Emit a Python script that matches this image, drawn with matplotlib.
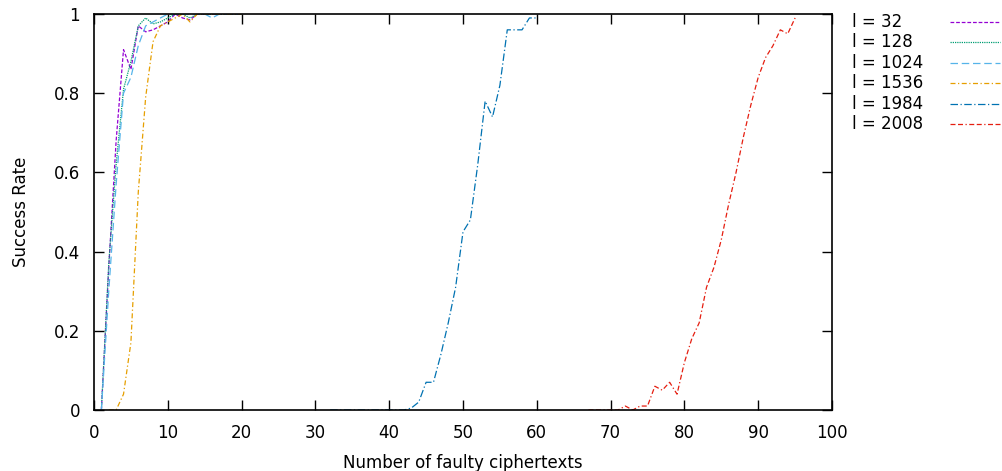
import matplotlib
matplotlib.use('Agg')
import matplotlib.pyplot as plt
from matplotlib.lines import Line2D

# success rate vs number of faulty ciphertexts, one series per l
x_small = list(range(1, 21))
rate_32 = [0, 0.36, 0.68, 0.91, 0.86, 0.97, 0.955, 0.96, 0.97, 0.98,
           1, 0.99, 0.985, 1, 1, 1, 1, 1, 1, 1]
rate_128 = [0, 0.37, 0.62, 0.81, 0.88, 0.97, 0.99, 0.975, 0.98, 0.99,
            1, 1, 0.99, 1, 1, 1, 1, 1, 1, 1]
rate_1024 = [0, 0.30, 0.57, 0.80, 0.84, 0.92, 0.97, 0.98, 0.99, 1,
             1, 1, 1, 1, 1, 0.99, 1, 1, 1, 1]
x_1536 = list(range(2, 21))
rate_1536 = [0, 0, 0.04, 0.17, 0.55, 0.79, 0.93, 0.97, 0.98, 0.99,
             1, 0.98, 1, 1, 1, 1, 1, 1, 1]
x_1984 = list(range(32, 61))
rate_1984 = [0, 0, 0, 0, 0, 0, 0, 0, 0, 0, 0, 0.005, 0.02, 0.07, 0.07,
             0.14, 0.22, 0.31, 0.45, 0.48, 0.62, 0.78, 0.74, 0.82, 0.96,
             0.96, 0.96, 0.99, 0.99]
x_2008 = list(range(67, 96))
rate_2008 = [0, 0, 0, 0, 0, 0.01, 0, 0.01, 0.01, 0.06, 0.05, 0.07, 0.04,
             0.12, 0.18, 0.22, 0.31, 0.36, 0.43, 0.52, 0.60, 0.69, 0.77,
             0.84, 0.89, 0.92, 0.96, 0.95, 0.99]

series = [
    ('l = 32', x_small, rate_32, '#9400d3', (0, (3, 1.5))),
    ('l = 128', x_small, rate_128, '#009e73', (0, (1, 0.8))),
    ('l = 1024', x_small, rate_1024, '#56b4e9', (0, (6, 3))),
    ('l = 1536', x_1536, rate_1536, '#e69f00', (0, (4, 2, 1, 2))),
    ('l = 1984', x_1984, rate_1984, '#0072b2', (0, (6, 2, 1, 2))),
    ('l = 2008', x_2008, rate_2008, '#e51e10', (0, (4, 2, 4, 2, 1, 2))),
]

fig = plt.figure(figsize=(10.02, 4.71), dpi=100)
ax = fig.add_axes([94 / 1002, 1 - 410 / 471, 738 / 1002, 396 / 471])

for label, xs, ys, color, ls in series:
    ax.plot(xs, ys, color=color, linestyle=ls, linewidth=0.9)

ax.set_xlim(0, 100)
ax.set_ylim(0, 1)
ax.set_xticks(range(0, 101, 10))
ax.set_yticks([0, 0.2, 0.4, 0.6, 0.8, 1])
ax.set_yticklabels(['0', '0.2', '0.4', '0.6', '0.8', '1'])
ax.tick_params(direction='in', length=7, width=1, top=True, right=True,
               labelsize=12)
ax.tick_params(axis='x', pad=10)
ax.tick_params(axis='y', pad=10)
for sp in ax.spines.values():
    sp.set_linewidth(1.2)
ax.set_xlabel('Number of faulty ciphertexts', fontsize=12, labelpad=9)
ax.set_ylabel('Success Rate', fontsize=12, labelpad=17)

# gnuplot style key outside the plot: text left, sample line right
for i, (label, xs, ys, color, ls) in enumerate(series):
    yy = 1 - (22 + i * 20.4) / 471
    fig.text(852 / 1002, yy, label, fontsize=12, va='center', ha='left')
    fig.add_artist(Line2D([950 / 1002, 1000 / 1002], [yy, yy],
                          transform=fig.transFigure, color=color,
                          linestyle=ls, linewidth=0.9))

fig.savefig('out.png', dpi=100)
